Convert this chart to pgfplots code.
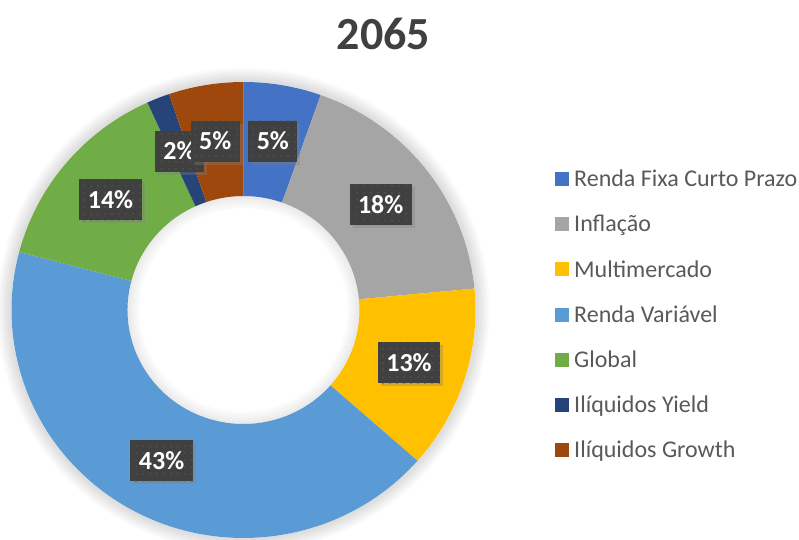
\documentclass[border=0pt]{standalone}
\usepackage{fontspec}
\setmainfont{Carlito}
\usepackage{pgfplots}
\pgfplotsset{compat=1.18}
\usetikzlibrary{shadows,patterns.meta}

\definecolor{cA}{HTML}{4472C4}
\definecolor{cB}{HTML}{A5A5A5}
\definecolor{cC}{HTML}{FFC000}
\definecolor{cD}{HTML}{5B9BD5}
\definecolor{cE}{HTML}{70AD47}
\definecolor{cF}{HTML}{264478}
\definecolor{cG}{HTML}{9E480E}
\definecolor{boxgray}{HTML}{404040}
\definecolor{dotgray}{HTML}{575757}
\definecolor{txtgray}{HTML}{595959}
\definecolor{titlegray}{HTML}{404040}

% shares in percent, clockwise from 12 o'clock
\def\vA{5.4}  % Renda Fixa Curto Prazo
\def\vB{18.1} % Inflacao
\def\vC{13.0} % Multimercado
\def\vD{42.6} % Renda Variavel
\def\vE{14.1} % Global
\def\vF{1.6}  % Iliquidos Yield
\def\vG{5.2}  % Iliquidos Growth
\pgfmathsetmacro\cA{\vA}
\pgfmathsetmacro\cB{\cA+\vB}
\pgfmathsetmacro\cC{\cB+\vC}
\pgfmathsetmacro\cD{\cC+\vD}
\pgfmathsetmacro\cE{\cD+\vE}
\pgfmathsetmacro\cF{\cE+\vF}

\tikzset{lbl/.style={fill=boxgray, text=white,
    font=\bfseries\fontsize{26}{30}\selectfont,
    inner xsep=8.5pt, inner ysep=12pt, text height=17pt, text depth=0pt,
    postaction={pattern={Dots[distance=6.5pt, radius=0.9pt]}, pattern color=dotgray},
    drop shadow={shadow xshift=3pt, shadow yshift=-3pt, opacity=0.35}}}

% ring segment between two cumulative percentages
\newcommand{\slice}[3]{%
  \pgfmathsetmacro\ta{90-3.6*#1}%
  \pgfmathsetmacro\tb{90-3.6*#2}%
  \edef\temp{\noexpand\fill[#3] ([shift={(\ta:232pt and 228pt)}]axis cs:0,0)
    arc[start angle=\ta, end angle=\tb, x radius=232pt, y radius=228pt]
    -- ([shift={(\tb:116pt and 114pt)}]axis cs:0,0)
    arc[start angle=\tb, end angle=\ta, x radius=116pt, y radius=114pt] -- cycle;}%
  \temp
}
% data label at the middle of a segment
\newcommand{\slicelabel}[3]{%
  \pgfmathsetmacro\tm{90-1.8*(#1+#2)}%
  \edef\temp{\noexpand\node[lbl] at ([shift={(\tm:174pt and 171pt)}]axis cs:0,0) {\unexpanded{#3}};}%
  \temp
}

\begin{document}
\begin{tikzpicture}
\begin{axis}[
  width=799pt, height=539pt, scale only axis,
  xmin=-243.5, xmax=555.5, ymin=-229, ymax=310,
  hide axis, clip=false,
  legend cell align=left,
  legend style={draw=none, fill=none, inner sep=0pt,
    at={(axis cs:311.5,142)}, anchor=north west,
    font=\fontsize{24}{28}\selectfont, text=txtgray,
    row sep=23pt,
    /tikz/every odd column/.append style={column sep=3pt}},
  legend image code/.code={\fill[#1, draw=none] (0pt,-7pt) rectangle (14pt,7pt);},
]
% soft glow round the ring
\pgfplotsinvokeforeach{234,236,238,240,242,244,246}{
  \fill[black, opacity=0.02] (axis cs:0,0) ellipse[x radius=#1pt, y radius=#1pt-4pt];
}
\fill[white] (axis cs:0,0) ellipse[x radius=232pt, y radius=228pt];

\slice{0}{\cA}{cA}
\slice{\cA}{\cB}{cB}
\slice{\cB}{\cC}{cC}
\slice{\cC}{\cD}{cD}
\slice{\cD}{\cE}{cE}
\slice{\cE}{\cF}{cF}
\slice{\cF}{100}{cG}

% faint shade inside the hole
\pgfplotsinvokeforeach{104,107,110,113}{
  \fill[black, opacity=0.02, even odd rule] (axis cs:0,0) ellipse[x radius=116pt, y radius=114pt]
    (axis cs:0,0) ellipse[x radius=#1pt, y radius=#1pt-2pt];
}

\slicelabel{0}{\cA}{5\%}
\slicelabel{\cA}{\cB}{18\%}
\slicelabel{\cB}{\cC}{13\%}
\slicelabel{\cC}{\cD}{43\%}
\slicelabel{\cD}{\cE}{14\%}
\slicelabel{\cE}{\cF}{2\%}
\slicelabel{\cF}{100}{5\%}

\node[font=\bfseries\fontsize{46}{52}\selectfont, text=titlegray] at (axis cs:140,276) {2065};

\addlegendimage{fill=cA}\addlegendentry{Renda Fixa Curto Prazo}
\addlegendimage{fill=cB}\addlegendentry{Inflação}
\addlegendimage{fill=cC}\addlegendentry{Multimercado}
\addlegendimage{fill=cD}\addlegendentry{Renda Variável}
\addlegendimage{fill=cE}\addlegendentry{Global}
\addlegendimage{fill=cF}\addlegendentry{Ilíquidos Yield}
\addlegendimage{fill=cG}\addlegendentry{Ilíquidos Growth}
\end{axis}
\pgfresetboundingbox
\path[use as bounding box] (current axis.south west) rectangle (current axis.north east);
\end{tikzpicture}
\end{document}
